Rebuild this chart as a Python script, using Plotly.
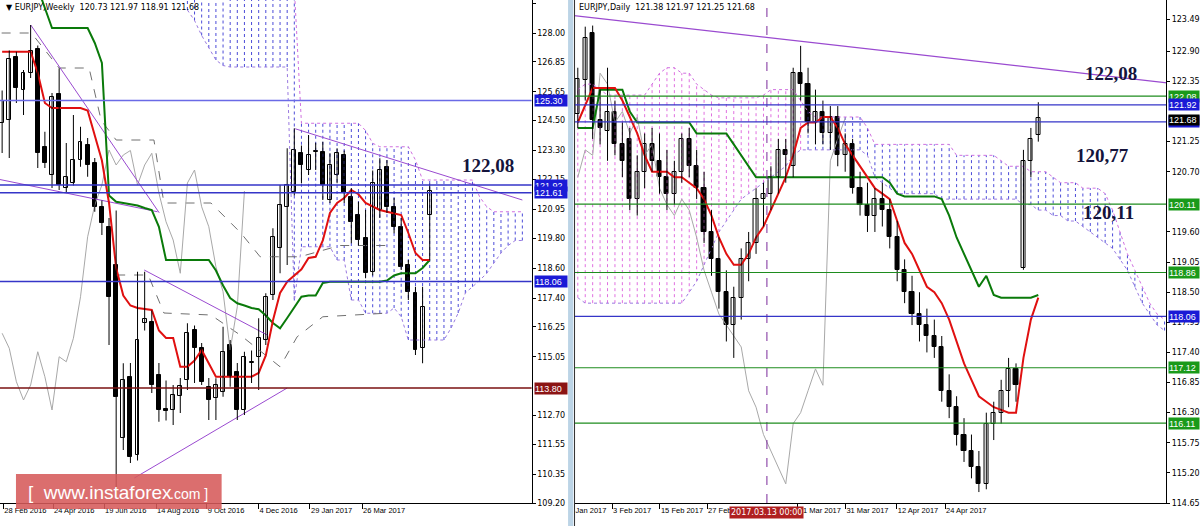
import plotly.graph_objects as go

# ---------------- WEEKLY (left panel) ----------------
w_open  = [124.4,124.52,127.05,125.72,126.4,127.35,123.45,122.32,125.56,121.8,122.0,122.92,123.52,122.79,121.05,120.25,118.72,111.79,114.25,111.12,
           116.4,116.45,114.32,112.95,112.92,113.5,114.12,116.12,115.39,113.85,113.39,113.65,115.52,114.45,112.92,114.79,115.05,115.72,117.52,119.39,
           121.05,121.65,123.21,122.52,123.25,123.25,121.32,122.32,123.12,121.45,120.72,119.79,118.45,120.92,122.65,121.05,120.25,118.72,117.59,115.39,120.73]
w_high  = [125.7,127.3,127.25,126.52,128.32,127.5,124.05,125.6,126.59,123.6,124.72,124.25,123.8,123.0,121.3,120.6,120.9,114.79,114.8,118.45,
           118.45,116.9,114.8,114.1,113.92,114.2,116.39,116.3,115.6,114.2,114.19,116.25,115.72,114.8,115.25,115.3,116.59,117.59,120.19,121.92,
           123.39,124.19,123.5,123.92,123.61,123.65,123.19,123.39,123.3,121.8,121.25,120.92,122.5,122.99,122.92,121.4,120.6,118.92,117.85,117.85,121.97]
w_low   = [123.2,123.0,125.2,124.72,126.2,122.6,122.6,121.8,121.72,121.6,121.9,122.65,122.25,120.85,119.92,115.52,109.5,111.32,110.8,110.9,
           116.1,113.6,112.45,112.5,112.32,112.8,113.72,114.0,113.92,112.52,112.52,113.45,113.85,112.52,112.72,114.0,113.72,115.52,117.32,118.39,
           118.72,121.5,121.99,122.32,122.52,121.32,121.2,121.99,121.2,119.59,119.5,118.19,118.3,120.6,120.8,119.99,118.52,117.32,115.12,114.79,118.91]
w_close = [125.3,126.96,125.79,126.4,127.3,123.19,122.79,125.45,121.92,122.25,122.92,123.65,122.72,121.05,120.39,117.45,113.45,114.12,111.05,115.72,
           116.55,113.92,112.92,112.9,113.52,113.9,115.99,115.39,114.05,113.32,113.92,115.25,114.25,112.92,115.05,114.85,115.79,117.45,119.85,121.12,
           121.92,123.32,122.72,123.12,123.3,121.92,122.72,123.19,121.6,120.45,119.72,118.39,122.0,122.52,121.05,120.25,118.65,117.65,115.32,117.05,121.68]

w_tenkan = [127.25,127.25,127.25,127.25,127.25,126.4,125.2,125.0,125.0,125.0,125.0,125.0,124.9,123.9,122.9,121.2,118.6,117.5,117.1,117.0,
            116.95,116.92,116.1,115.8,115.8,114.65,114.65,114.9,115.32,114.8,114.25,114.25,114.25,114.25,114.25,114.25,114.4,115.1,116.5,117.6,
            118.05,118.3,118.55,119.0,119.05,119.7,120.8,121.2,121.4,121.72,121.55,121.2,121.05,120.92,120.85,120.8,120.72,120.0,119.2,118.92,118.92]
w_kijun  = [129.8,129.8,129.8,129.8,129.8,129.8,129.0,128.2,128.2,128.2,128.2,128.2,128.2,127.6,126.8,121.5,121.25,121.2,121.15,121.1,
            121.0,120.92,120.25,118.92,118.92,118.92,118.92,118.92,118.92,118.92,118.5,117.9,117.4,117.19,117.1,117.0,116.95,116.7,116.4,116.19,
            116.6,117.0,117.45,117.5,117.5,118.0,118.05,118.05,118.05,118.05,118.05,118.05,118.05,118.05,118.1,118.3,118.39,118.39,118.39,118.6,118.92]

# cloud, index 26..73
w_cloud_start = 26
w_cloud_top = [129.8,129.8,129.8,129.8,129.8,129.8,129.8,129.8,129.8,129.8,129.8,129.8,129.8,129.8,129.8,129.8,
               124.39,124.39,124.39,124.39,124.39,124.39,124.39,124.39,124.39,124.1,123.59,123.45,123.45,123.45,123.45,123.45,
               122.92,122.12,122.12,122.12,122.12,122.12,122.12,122.12,122.12,121.45,121.05,120.85,120.85,120.85,120.85,120.85]
w_cloud_bot = [128.92,128.5,127.9,127.4,126.92,126.7,126.64,126.64,126.64,126.64,126.64,126.64,126.64,126.64,126.64,117.3,
               119.45,119.45,119.45,119.45,119.45,118.92,118.92,117.32,117.32,116.79,116.79,116.79,116.79,117.0,116.65,115.72,
               115.72,115.72,115.72,115.72,115.72,116.2,116.8,117.6,117.85,118.1,118.39,118.8,119.2,119.5,119.7,119.7]

# dashed reference lines (weekly)
w_dash1_x = [-0.07, 4.1, 8.0, 12.2, 13.9, 16.0, 21.3, 22.7, 29.3, 33.5, 36.2, 41.8, 47.4, 54.0]
w_dash1_y = [128.0, 128.0, 126.6, 126.6, 124.5, 123.72, 123.72, 121.2, 121.2, 120.0, 119.05, 119.05, 119.5, 119.5]
w_dash2_x = [16.0, 20.5, 22.7, 29.3, 33.5, 39.0, 41.4, 45.0, 54.4]
w_dash2_y = [118.32, 118.32, 116.8, 116.72, 115.9, 114.65, 115.85, 116.65, 116.8]

w_hlines = [125.30, 121.92, 121.61, 118.06, 113.80]
w_hcolors = ['#6a6ae6', '#3535c8', '#3535c8', '#3535c8', '#7a1010']
w_hlabel_bg = ['#1a1ad6', '#1a1ad6', '#1a1ad6', '#1a1ad6', '#8b1414']
w_trend = [[(4.02, 128.32), (22.04, 120.81)],
           [(-0.5, 122.15), (21.8, 120.85)],
           [(19.94, 118.52), (37.2, 115.92)],
           [(18.55, 110.2), (40.0, 113.8)],
           [(41.13, 124.17), (73.0, 121.32)]]
w_ticks = [0.17, 7.15, 14.3, 21.6, 28.7, 35.96, 43.2, 50.5]
w_ticktext = ['28 Feb 2016', '24 Apr 2016', '19 Jun 2016', '14 Aug 2016', '9 Oct 2016', '4 Dec 2016', '29 Jan 2017', '26 Mar 2017']
w_yticks = [129.20,128.00,126.85,125.65,124.50,123.30,122.15,120.95,119.80,118.60,117.40,116.25,115.05,112.70,111.55,110.35,109.20]

# ---------------- DAILY (right panel) ----------------
d_open  = [121.75,122.38,123.23,121.65,121.45,121.8,121.2,121.3,120.2,120.7,121.2,120.9,120.6,120.3,120.7,121.3,120.8,120.4,119.6,119.1,
           118.5,117.9,118.4,119.1,119.4,120.2,120.3,120.6,121.1,120.8,122.5,122.3,121.6,121.8,121.4,121.7,121.0,121.2,120.4,120.1,
           119.9,120.2,120.0,119.5,118.9,118.5,118.1,117.9,117.7,117.5,116.7,116.4,115.9,115.6,115.3,115.0,116.1,116.3,116.7,117.1,
           118.95,120.9,121.38]
d_high  = [122.6,123.35,123.37,122.2,122.6,122.0,121.6,121.5,121.0,121.4,121.5,121.4,121.1,120.9,121.4,121.5,121.1,120.7,120.0,119.5,
           118.9,118.6,119.3,119.6,120.4,120.5,120.8,121.3,121.3,122.6,123.0,122.6,122.2,122.0,121.9,121.9,121.4,121.3,120.7,120.5,
           120.4,120.5,120.2,119.8,119.1,118.8,118.5,118.2,118.0,117.7,117.0,116.6,116.2,115.9,115.6,116.3,116.5,116.9,117.3,117.2,
           121.1,121.5,121.97]
d_low   = [121.5,122.0,121.3,121.2,120.9,121.0,120.6,120.0,119.9,120.4,120.7,120.3,120.0,120.1,120.5,120.6,120.2,119.4,118.8,118.2,
           117.6,117.3,118.0,118.7,119.2,119.7,120.0,120.3,120.5,120.6,122.0,121.4,121.2,121.2,121.1,120.8,120.7,120.3,119.9,119.6,
           119.6,119.7,119.3,118.7,118.3,117.9,117.6,117.4,117.3,116.5,116.2,115.7,115.4,115.1,114.85,114.9,115.8,116.1,116.4,116.5,
           118.91,120.6,121.25]
d_close = [122.39,123.14,121.65,121.5,121.8,121.2,120.9,120.2,120.7,121.2,120.9,120.6,120.3,120.7,121.3,120.8,120.4,119.6,119.1,118.5,
           117.9,118.4,119.1,119.4,120.2,120.3,120.6,121.1,121.0,122.5,122.3,121.6,121.8,121.4,121.7,121.0,121.2,120.4,120.1,119.9,
           120.2,120.0,119.5,118.9,118.5,118.1,117.9,117.7,117.5,116.7,116.4,115.9,115.6,115.3,115.0,116.1,116.3,116.7,117.1,116.8,
           120.9,121.3,121.68]
d_tenkan = [121.6,121.9,122.23,122.23,122.23,122.23,122.0,121.7,121.4,121.0,120.7,120.7,120.7,120.6,120.6,120.5,120.4,120.2,119.9,119.5,
            119.2,119.0,119.0,119.2,119.5,119.7,120.0,120.3,120.6,121.0,121.5,121.6,121.6,121.7,121.7,121.5,121.2,121.0,120.8,120.6,
            120.4,120.3,120.2,119.8,119.4,119.2,118.9,118.6,118.5,118.3,118.0,117.6,117.2,116.9,116.6,116.5,116.4,116.35,116.3,116.3,
            117.3,118.0,118.4]
d_kijun  = [121.5,121.5,121.5,122.2,122.2,122.2,122.2,121.8,121.6,121.6,121.6,121.6,121.6,121.6,121.6,121.6,121.4,121.4,121.4,121.4,
            121.4,121.2,121.0,120.8,120.6,120.6,120.6,120.6,120.6,120.6,120.6,120.6,120.6,120.6,120.6,120.6,120.6,120.6,120.6,120.6,
            120.6,120.6,120.5,120.3,120.25,120.25,120.25,120.25,120.25,120.2,119.9,119.5,119.2,118.9,118.6,118.8,118.45,118.4,118.4,118.4,
            118.4,118.4,118.45]
d_cloud_top = [122.2,122.3,122.3,122.2,122.1,122.1,122.1,122.1,122.1,122.1,122.3,122.5,122.6,122.6,122.5,122.5,122.3,122.2,122.1,122.05,
               122.05,122.05,122.05,122.05,122.05,122.1,122.2,122.2,122.2,122.2,122.0,121.8,121.7,121.7,121.7,121.7,121.7,121.7,121.7,121.5,
               121.2,121.2,121.2,121.2,121.2,121.2,121.2,121.2,121.2,121.2,121.2,121.0,121.0,121.0,121.0,121.0,121.0,120.9,120.8,120.8,
               120.8,120.7,120.7,120.7,120.6,120.5,120.5,120.5,120.4,120.4,120.4,120.3,120.0,119.6,119.2,118.9,118.6,118.3,118.1,118.0]
d_cloud_bot = [118.4,118.3,118.3,118.3,118.3,118.3,118.3,118.3,118.3,118.3,118.3,118.3,118.3,118.3,118.3,118.5,118.7,119.0,119.3,119.6,
               119.8,120.0,120.2,120.3,120.4,120.5,120.6,120.7,120.8,121.0,121.1,121.1,121.1,121.1,121.1,121.1,121.1,121.1,121.1,121.0,
               120.6,120.5,120.4,120.3,120.3,120.3,120.3,120.3,120.3,120.2,120.2,120.2,120.2,120.2,120.2,120.2,120.2,120.2,120.2,120.2,
               120.1,120.1,120.0,120.0,119.9,119.9,119.8,119.8,119.7,119.6,119.5,119.4,119.3,119.1,118.9,118.6,118.3,118.1,117.9,117.8]
d_cloud_pink_until = 31
d_hlines = [122.08, 121.92, 121.61, 120.11, 118.86, 118.06, 117.12, 116.11]
d_hcolors = ['#1e8c1e', '#3535c8', '#3535c8', '#1e8c1e', '#1e8c1e', '#3535c8', '#1e8c1e', '#1e8c1e']
d_hlabels = ['122.08', '121.92', '121.61', '120.11', '118.86', '118.06', '117.12', '116.11']
d_hlabel_bg = ['#1a9a1a', '#1a1ad6', '#1a1ad6', '#1a9a1a', '#1a9a1a', '#1a1ad6', '#1a9a1a', '#1a9a1a']
d_trend = [[(-1.1, 123.56), (99.8, 122.01)]]
d_vline = 25.46
d_ticks = [-0.44, 4.62, 11.06, 17.41, 29.62, 36.03, 42.95, 49.45]
d_ticktext = ['Jan 2017', '3 Feb 2017', '15 Feb 2017', '27 Feb 2017', '21 Mar 2017', '31 Mar 2017', '12 Apr 2017', '24 Apr 2017']
d_yticks = [123.49,122.90,122.35,121.25,120.70,119.60,119.05,118.50,117.95,117.40,116.85,116.30,115.75,115.20,114.65]

# ---------------- figure ----------------
fig = go.Figure()

def candles(x, o, h, l, c, xa, ya, width):
    wx, wy = [], []
    for xi, hi, lo in zip(x, h, l):
        wx += [xi, xi, None]
        wy += [lo, hi, None]
    fig.add_trace(go.Scatter(x=wx, y=wy, mode='lines', line=dict(color='black', width=1),
                             xaxis=xa, yaxis=ya, hoverinfo='skip', showlegend=False))
    base = [min(a, b) for a, b in zip(o, c)]
    hgt = [max(abs(b - a), 0.03) for a, b in zip(o, c)]
    cols = ['white' if b >= a else 'black' for a, b in zip(o, c)]
    fig.add_trace(go.Bar(x=x, y=hgt, base=base, width=width,
                         marker=dict(color=cols, line=dict(color='black', width=1)),
                         xaxis=xa, yaxis=ya, showlegend=False, hoverinfo='skip'))

def hatch(x, top, bot, color, xa, ya):
    hx, hy = [], []
    for xi, t, b in zip(x, top, bot):
        hx += [xi, xi, None]
        hy += [b, t, None]
    fig.add_trace(go.Scatter(x=hx, y=hy, mode='lines', line=dict(color=color, width=1, dash='dot'),
                             xaxis=xa, yaxis=ya, hoverinfo='skip', showlegend=False))

def line(x, y, color, xa, ya, width=1.5, dash='solid'):
    fig.add_trace(go.Scatter(x=x, y=y, mode='lines', line=dict(color=color, width=width, dash=dash),
                             xaxis=xa, yaxis=ya, hoverinfo='skip', showlegend=False))

# weekly
wi = list(range(len(w_close)))
wc = list(range(w_cloud_start, w_cloud_start + len(w_cloud_top)))
hatch(wc, w_cloud_top, w_cloud_bot, '#4b4bd8', 'x', 'y')
line(wc, w_cloud_top, '#d070e0', 'x', 'y', 1, 'dot')
line(wc, w_cloud_bot, '#9a7ae0', 'x', 'y', 1, 'dot')
line(w_dash1_x, w_dash1_y, '#707070', 'x', 'y', 1, 'dash')
line(w_dash2_x, w_dash2_y, '#707070', 'x', 'y', 1, 'dash')
line(list(range(len(w_close) - 26)), w_close[26:], '#a8a8a8', 'x', 'y', 1)
for seg in w_trend:
    line([p[0] for p in seg], [p[1] for p in seg], '#9a4ad0', 'x', 'y', 1)
line(wi, w_kijun, '#0a7a0a', 'x', 'y', 2)
line(wi, w_tenkan, '#e01010', 'x', 'y', 2)
candles(wi, w_open, w_high, w_low, w_close, 'x', 'y', 0.55)

# daily
di = list(range(len(d_close)))
dc = list(range(len(d_cloud_top)))
p_end = d_cloud_pink_until
hatch(dc[:p_end], d_cloud_top[:p_end], d_cloud_bot[:p_end], '#e070e0', 'x2', 'y2')
hatch(dc[p_end:], d_cloud_top[p_end:], d_cloud_bot[p_end:], '#4b4bd8', 'x2', 'y2')
line(dc, d_cloud_top, '#d070e0', 'x2', 'y2', 1, 'dot')
line(dc, d_cloud_bot, '#9a7ae0', 'x2', 'y2', 1, 'dot')
line(list(range(len(d_close) - 26)), d_close[26:], '#a8a8a8', 'x2', 'y2', 1)
for seg in d_trend:
    line([p[0] for p in seg], [p[1] for p in seg], '#9a4ad0', 'x2', 'y2', 1.2)
line(di, d_kijun, '#0a7a0a', 'x2', 'y2', 2)
line(di, d_tenkan, '#e01010', 'x2', 'y2', 2)
candles(di, d_open, d_high, d_low, d_close, 'x2', 'y2', 0.55)

# vertical crosshair line
fig.add_shape(type='line', xref='x2', yref='paper', x0=d_vline, x1=d_vline, y0=0, y1=1,
              line=dict(color='#7a2a9a', width=1, dash='dash'))

LD = [0, 532.5 / 1200]
RD = [575.5 / 1200, 1168 / 1200]
yfont = dict(family='DejaVu Sans', size=8, color='black')
xfont = dict(family='Liberation Sans', size=7.5, color='black')
lab_font = dict(family='Liberation Sans', size=9, color='white')

# horizontal levels + price labels
for v, col, bg in zip(w_hlines, w_hcolors, w_hlabel_bg):
    fig.add_shape(type='line', xref='x domain', yref='y', x0=0, x1=1, y0=v, y1=v,
                  line=dict(color=col, width=1.5))
    fig.add_annotation(xref='paper', yref='y', x=LD[1] + 0.002, y=v, text='%.2f' % v, showarrow=False,
                       xanchor='left', yanchor='middle', bgcolor=bg, font=lab_font, width=32, height=11,
                       align='left', borderpad=0)
for v, col, lab, bg in zip(d_hlines, d_hcolors, d_hlabels, d_hlabel_bg):
    fig.add_shape(type='line', xref='x2 domain', yref='y2', x0=0, x1=1, y0=v, y1=v,
                  line=dict(color=col, width=1.2))
    fig.add_annotation(xref='paper', yref='y2', x=RD[1] + 0.002, y=v, text=lab, showarrow=False,
                       xanchor='left', yanchor='middle', bgcolor=bg, font=lab_font, width=30, height=11,
                       align='left', borderpad=0)
fig.add_annotation(xref='paper', yref='y2', x=RD[1] + 0.002, y=d_close[-1] - 0.04, text='%.2f' % d_close[-1], showarrow=False,
                   xanchor='left', yanchor='middle', bgcolor='black', font=lab_font, width=30, height=10,
                   align='left', borderpad=0)

# big labels
big = dict(family='Liberation Serif', size=19, color='#14143c')
fig.add_annotation(xref='x', yref='y', x=68.2, y=122.72, text='<b>122,08</b>', showarrow=False, font=big)
fig.add_annotation(xref='x2', yref='y2', x=71.8, y=122.50, text='<b>122,08</b>', showarrow=False, font=big)
fig.add_annotation(xref='x2', yref='y2', x=70.6, y=121.0, text='<b>120,77</b>', showarrow=False, font=big)
fig.add_annotation(xref='x2', yref='y2', x=71.4, y=119.95, text='<b>120,11</b>', showarrow=False, font=big)

# headers
fig.add_annotation(xref='paper', yref='paper', x=0.003, y=0.998, xanchor='left', yanchor='top', showarrow=False,
                   text='\u25BC EURJPY,Weekly  120.73 121.97 118.91 121.68', font=yfont)
fig.add_annotation(xref='paper', yref='paper', x=RD[0] + 0.002, y=0.998, xanchor='left', yanchor='top', showarrow=False,
                   text='EURJPY,Daily  121.38 121.97 121.25 121.68', font=yfont)

# separator
fig.add_shape(type='rect', xref='paper', yref='paper', x0=569 / 1200, x1=RD[0] - 0.001, y0=-0.05, y1=1,
              fillcolor='#bcd4e6', line=dict(width=0), layer='above')
fig.add_shape(type='line', xref='paper', yref='paper', x0=RD[0], x1=RD[0], y0=-0.05, y1=1,
              line=dict(color='#303030', width=1), layer='above')

# date label box
fig.add_annotation(xref='x2', yref='paper', x=d_vline, y=-0.006, yanchor='top', text='2017.03.13 00:00', showarrow=False,
                   bgcolor='#b02020', font=dict(family='DejaVu Sans', size=8, color='white'), borderpad=1)

# logo
fig.add_shape(type='rect', xref='paper', yref='paper', x0=16 / 1200, x1=222 / 1200, y0=(503 - 509) / 503, y1=(503 - 474) / 503,
              fillcolor='rgba(214,90,90,0.88)', line=dict(width=0), layer='above')
fig.add_annotation(xref='paper', yref='paper', x=26 / 1200, y=(503 - 492) / 503, xanchor='left', yanchor='middle',
                   text='[  www.instaforex', showarrow=False, font=dict(family='Liberation Sans', size=19, color='white'))
fig.add_annotation(xref='paper', yref='paper', x=168 / 1200, y=(503 - 494) / 503, xanchor='left', yanchor='middle',
                   text='.com ]', showarrow=False, font=dict(family='Liberation Sans', size=14, color='white'))

axis_common = dict(showgrid=False, zeroline=False, showline=True, linecolor='black', linewidth=1,
                   ticks='outside', tickcolor='black')
fig.update_layout(
    width=1200, height=526, margin=dict(l=0, r=0, t=0, b=23),
    paper_bgcolor='white', plot_bgcolor='white', barmode='overlay', bargap=0,
    showlegend=False,
    xaxis=dict(domain=LD, range=[-0.3, 74.3], tickvals=w_ticks, ticktext=w_ticktext, tickangle=0, ticklen=5,
               ticklabelposition='outside right', tickfont=xfont, **axis_common),
    yaxis=dict(domain=[0, 1], range=[109.2, 129.32], side='right', anchor='x', tickvals=w_yticks, ticklen=3,
               ticktext=['%.2f' % v for v in w_yticks], tickfont=yfont, **axis_common),
    xaxis2=dict(domain=RD, range=[-0.44, 79.2], tickvals=d_ticks, ticktext=d_ticktext, tickangle=0, ticklen=5,
                ticklabelposition='outside right', tickfont=xfont, **axis_common),
    yaxis2=dict(domain=[0, 1], range=[114.65, 123.837], side='right', anchor='x2', tickvals=d_yticks, ticklen=3,
                ticktext=['%.2f' % v for v in d_yticks], tickfont=yfont, **axis_common),
)
fig.write_html('out.html', config={'displayModeBar': False},
               post_script="document.body.style.margin='0';document.body.style.overflow='hidden';")
